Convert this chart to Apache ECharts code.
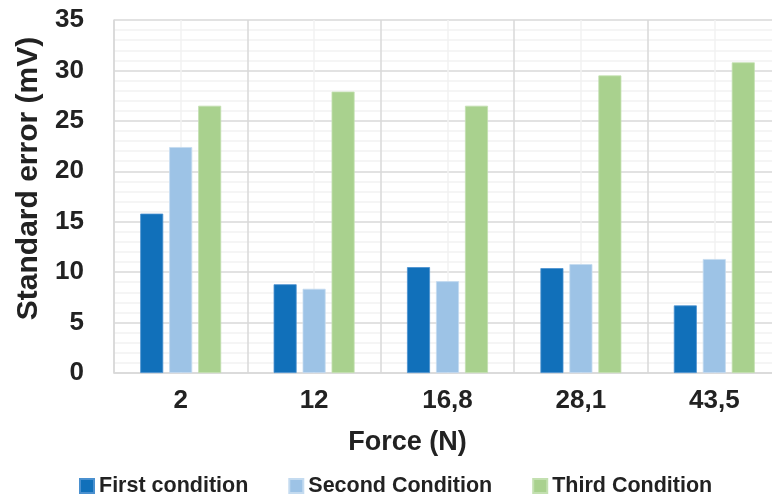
<!doctype html>
<html>
<head>
<meta charset="utf-8">
<title>Standard error</title>
<script src="https://cdn.jsdelivr.net/npm/echarts@6/dist/echarts.min.js"></script>
<style>
  html, body { margin: 0; padding: 0; background: #fff; }
  #chart { width: 772px; height: 498px; }
</style>
</head>
<body>
<div id="chart"></div>
<script>
var categories = ['2', '12', '16,8', '28,1', '43,5'];
var firstCondition = [15.8, 8.8, 10.5, 10.4, 6.7];
var secondCondition = [22.4, 8.35, 9.1, 10.8, 11.3];
var thirdCondition = [26.5, 27.9, 26.5, 29.5, 30.8];
var yTicks = [0, 5, 10, 15, 20, 25, 30, 35];

var font = "'Liberation Sans', Arial, sans-serif";
var myChart = echarts.init(document.getElementById('chart'));

var option = {
    animation: false,
    textStyle: { fontFamily: font },
    color: ['#1170ba', '#9dc3e6', '#a9d18e'],
    grid: { left: 114, width: 667, top: 20, height: 353, outerBoundsMode: 'none', containLabel: false },
    legend: {
        top: 470,
        left: 74,
        icon: 'rect',
        itemWidth: 14,
        itemHeight: 14,
        itemGap: 40,
        textStyle: { fontSize: 21.5, fontWeight: 'bold', color: '#222', fontFamily: font }
    },
    xAxis: {
        type: 'category',
        data: categories,
        name: 'Force (N)',
        nameLocation: 'middle',
        nameGap: 56,
        nameTextStyle: { fontSize: 27, fontWeight: 'bold', color: '#222', fontFamily: font, padding: [0, 80, 0, 0] },
        axisLine: { lineStyle: { color: '#d9d9d9', width: 1.5 } },
        axisTick: {
            show: true,
            inside: true,
            alignWithLabel: true,
            length: 353,
            lineStyle: { color: '#f2f2f2', width: 1.5 }
        },
        axisLabel: { fontSize: 26, fontWeight: 'bold', color: '#222', margin: 15, fontFamily: font },
        splitLine: { show: true, lineStyle: { color: '#d9d9d9', width: 1.5 } }
    },
    yAxis: {
        type: 'value',
        min: yTicks[0],
        max: yTicks[yTicks.length - 1],
        interval: 5,
        name: 'Standard error (mV)',
        nameLocation: 'middle',
        nameGap: 68,
        nameTextStyle: { fontSize: 30, fontWeight: 'bold', color: '#222', fontFamily: font, padding: [0, 0, 0, 36] },
        axisLine: { show: true, lineStyle: { color: '#d9d9d9', width: 1.5 } },
        axisLabel: { fontSize: 26, fontWeight: 'bold', color: '#222', margin: 30, fontFamily: font },
        splitLine: { show: true, lineStyle: { color: '#d9d9d9', width: 1.5 } },
        minorTick: { show: false, splitNumber: 5 },
        minorSplitLine: { show: true, lineStyle: { color: '#f2f2f2', width: 1.5 } }
    },
    series: [
        {
            name: 'First condition',
            type: 'bar',
            data: firstCondition,
            barWidth: 23,
            barGap: '26%',
            itemStyle: { borderColor: '#4a90cf', borderWidth: 0.8 }
        },
        {
            name: 'Second Condition',
            type: 'bar',
            data: secondCondition,
            barWidth: 23,
            barGap: '26%',
            itemStyle: { borderColor: '#c4dbf0', borderWidth: 0.8 }
        },
        {
            name: 'Third Condition',
            type: 'bar',
            data: thirdCondition,
            barWidth: 23,
            barGap: '26%',
            itemStyle: { borderColor: '#c3e0b0', borderWidth: 0.8 }
        }
    ]
};

myChart.setOption(option);
</script>
</body>
</html>
